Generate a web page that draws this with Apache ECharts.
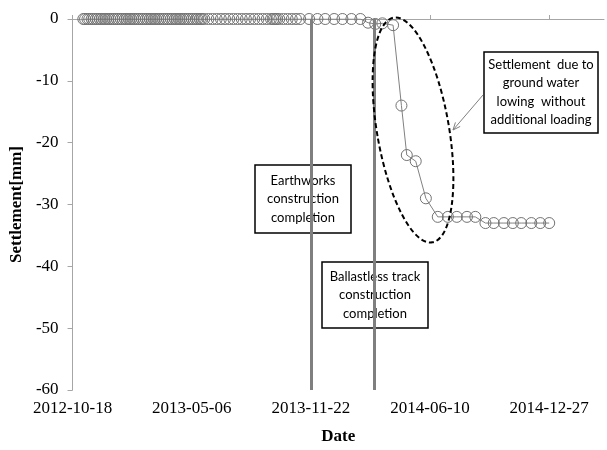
<!DOCTYPE html>
<html><head><meta charset="utf-8">
<script src="https://cdn.jsdelivr.net/npm/echarts@6/dist/echarts.min.js"></script>
<style>html,body{margin:0;padding:0;background:#fff}#c{width:607px;height:450px}</style>
</head><body><div id="c"></div>
<script>
// ---- data ----
const startDate = '2012-10-18';
const tickLabels = ['2012-10-18', '2013-05-06', '2013-11-22', '2014-06-10', '2014-12-27'];
const dates = [
  '2012-11-05','2012-11-08','2012-11-12','2012-11-15','2012-11-19','2012-11-22','2012-11-26','2012-11-29',
  '2012-12-03','2012-12-06','2012-12-10','2012-12-13','2012-12-17','2012-12-20','2012-12-24','2012-12-27','2012-12-31',
  '2013-01-03','2013-01-07','2013-01-10','2013-01-14','2013-01-17','2013-01-21','2013-01-24','2013-01-28','2013-01-31',
  '2013-02-04','2013-02-07','2013-02-11','2013-02-14','2013-02-18','2013-02-21','2013-02-25','2013-02-28',
  '2013-03-04','2013-03-07','2013-03-11','2013-03-14','2013-03-18','2013-03-21','2013-03-25','2013-03-28',
  '2013-04-01','2013-04-04','2013-04-08','2013-04-11','2013-04-15','2013-04-18','2013-04-22','2013-04-25','2013-04-29',
  '2013-05-02','2013-05-06','2013-05-09','2013-05-13','2013-05-16','2013-05-20','2013-05-23','2013-05-27',
  '2013-06-03','2013-06-10','2013-06-17','2013-06-24',
  '2013-07-01','2013-07-08','2013-07-15','2013-07-22','2013-07-29',
  '2013-08-05','2013-08-12','2013-08-19','2013-08-26',
  '2013-09-02','2013-09-09','2013-09-16','2013-09-20','2013-09-23','2013-09-26','2013-09-30',
  '2013-10-07','2013-10-14','2013-10-21','2013-10-28',
  '2013-11-04',
  '2013-11-19','2013-12-03','2013-12-16','2013-12-31',
  '2014-01-14','2014-01-29','2014-02-13','2014-02-26','2014-03-10','2014-03-22','2014-04-09','2014-04-23',
  '2014-05-02','2014-05-17','2014-06-03','2014-06-23','2014-07-10','2014-07-25','2014-08-11','2014-08-25',
  '2014-09-11','2014-09-25','2014-10-12','2014-10-27','2014-11-10','2014-11-27','2014-12-12','2014-12-27'
];
const settlement = [
  0,0,0,0,0,0,0,0,
  0,0,0,0,0,0,0,0,0,
  0,0,0,0,0,0,0,0,0,
  0,0,0,0,0,0,0,0,
  0,0,0,0,0,0,0,0,
  0,0,0,0,0,0,0,0,0,
  0,0,0,0,0,0,0,0,
  0,0,0,0,
  0,0,0,0,0,
  0,0,0,0,
  0,0,0,0,0,0,0,
  0,0,0,0,
  0,
  0,0,0,0,
  0,0,0,-0.6,-0.8,-0.7,-1,-14,
  -22,-23,-29,-32,-32,-32,-32,-32,
  -33,-33,-33,-33,-33,-33,-33,-33
];
const eventDates = ['2013-11-22', '2014-03-08'];

// ---- helpers ----
const DAY = 86400000;
function dayOffset(d) { return (Date.parse(d) - Date.parse(startDate)) / DAY; }
const tickValues = tickLabels.map(dayOffset);
const seriesData = dates.map((d, i) => [dayOffset(d), settlement[i]]);

const serif = 'Liberation Serif';
const chart = echarts.init(document.getElementById('c'), null, {renderer: 'canvas'});
chart.setOption({
  animation: false,
  backgroundColor: '#fff',
  grid: {left: 72, top: 19, right: 3, bottom: 58, containLabel: false},
  xAxis: {
    type: 'value', min: 0, max: 892,
    name: 'Date', nameLocation: 'middle', nameGap: 38,
    nameTextStyle: {fontFamily: serif, fontWeight: 'bold', fontSize: 17, color: '#000'},
    axisLine: {show: true, lineStyle: {color: '#a6a6a6', width: 1}},
    axisTick: {show: true, inside: true, length: 4, customValues: tickValues, lineStyle: {color: '#a6a6a6'}},
    axisLabel: {customValues: tickValues, margin: 10, fontFamily: serif, fontSize: 17, color: '#000',
      formatter: v => tickLabels[tickValues.indexOf(v)] || ''},
    splitLine: {show: false}
  },
  yAxis: {
    type: 'value', min: -60, max: 0, interval: 10,
    name: 'Settlement[mm]', nameLocation: 'middle', nameGap: 47, nameRotate: 90,
    nameTextStyle: {fontFamily: serif, fontWeight: 'bold', fontSize: 17, color: '#000'},
    axisLine: {show: true, lineStyle: {color: '#a6a6a6', width: 1}},
    axisTick: {show: true, inside: false, length: 5, lineStyle: {color: '#a6a6a6'}},
    axisLabel: {margin: 14, fontFamily: serif, fontSize: 17, color: '#000'},
    splitLine: {show: false}
  },
  series: [{
    type: 'line',
    data: seriesData,
    symbol: 'circle', symbolSize: 11, showAllSymbol: true,
    itemStyle: {color: 'rgba(0,0,0,0)', borderColor: '#737373', borderWidth: 1},
    lineStyle: {color: '#808080', width: 1},
    z: 3,
    markLine: {
      silent: true, symbol: 'none', animation: false,
      label: {show: false},
      lineStyle: {color: '#7f7f7f', width: 3, type: 'solid'},
      data: eventDates.map(d => ({xAxis: dayOffset(d)}))
    }
  }]
});

// ---- annotations ----
const boxFont = 'Lato';
function box(x, y, w, h, text) {
  return {
    type: 'group', z: 10, children: [
      {type: 'rect', shape: {x: x, y: y, width: w, height: h},
       style: {fill: '#fff', stroke: '#000', lineWidth: 1.5}},
      {type: 'text', x: x + w / 2, y: y + h / 2,
       style: {text: text, fontFamily: boxFont, fontSize: 13, lineHeight: 18.5, fill: '#000',
               align: 'center', verticalAlign: 'middle'}}
    ]
  };
}
const ax0 = 483, ay0 = 95, ax1 = 453, ay1 = 130;
const ang = Math.atan2(ay1 - ay0, ax1 - ax0);
const hl = 8, ha = 0.4;
chart.setOption({
  graphic: [
    {type: 'ellipse', x: 413, y: 130, rotation: 0.17, z: 8,
     shape: {cx: 0, cy: 0, rx: 36, ry: 114},
     style: {fill: 'none', stroke: '#000', lineWidth: 2, lineDash: [5, 3]}},
    box(255, 165, 96, 68, 'Earthworks\nconstruction\ncompletion'),
    box(322, 262, 106, 66, 'Ballastless track\nconstruction\ncompletion'),
    box(484, 52, 114, 81, 'Settlement  due to\nground water\nlowing  without\nadditional loading'),
    {type: 'line', z: 9, shape: {x1: ax0, y1: ay0, x2: ax1, y2: ay1}, style: {stroke: '#808080', lineWidth: 1}},
    {type: 'polyline', z: 9, shape: {points: [
      [ax1 - hl * Math.cos(ang - ha), ay1 - hl * Math.sin(ang - ha)],
      [ax1, ay1],
      [ax1 - hl * Math.cos(ang + ha), ay1 - hl * Math.sin(ang + ha)]
    ]}, style: {stroke: '#808080', lineWidth: 1, fill: 'none'}}
  ]
});
</script>
</body></html>
